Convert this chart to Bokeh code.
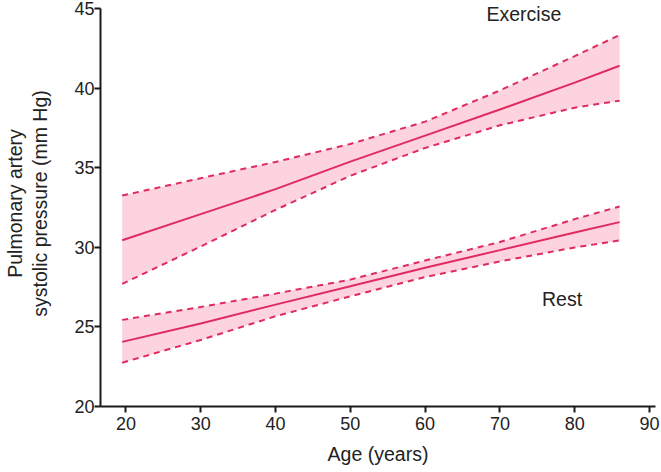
from bokeh.plotting import figure
from bokeh.models import Range1d, Label
from bokeh.embed import file_html
from bokeh.resources import INLINE

# values
ages = [19.5, 30, 40, 50, 60, 70, 80, 86]

exercise_mean = [30.44, 32.08, 33.65, 35.38, 37.01, 38.65, 40.34, 41.40]
exercise_upper = [33.25, 34.34, 35.36, 36.49, 37.89, 39.85, 42.01, 43.33]
exercise_lower = [27.70, 30.05, 32.35, 34.49, 36.24, 37.66, 38.77, 39.21]

rest_mean = [24.06, 25.21, 26.40, 27.55, 28.72, 29.82, 30.93, 31.58]
rest_upper = [25.44, 26.25, 27.09, 27.97, 29.17, 30.33, 31.77, 32.56]
rest_lower = [22.75, 24.18, 25.67, 26.92, 28.13, 29.11, 29.99, 30.43]

x_ticks = [20, 30, 40, 50, 60, 70, 80, 90]
y_ticks = [20, 25, 30, 35, 40, 45]

FONT = "Liberation Sans"
LINE = "#e02b5f"
FILL = "#fcd3df"
TEXT = "#222222"

# frame runs a little above 45 so the "Exercise" label is not clipped;
# the axis line itself stops at 45 (bounds)
p = figure(width=661, height=472, output_backend="svg", toolbar_location=None,
           x_range=Range1d(16.6, 90.8), y_range=Range1d(20, 45.5),
           min_border_left=95, min_border_right=6, min_border_top=0,
           min_border_bottom=66)
p.outline_line_color = None
p.grid.visible = False
p.background_fill_color = "white"
p.border_fill_color = "white"

for lower, mean, upper in [(exercise_lower, exercise_mean, exercise_upper),
                           (rest_lower, rest_mean, rest_upper)]:
    p.varea(x=ages, y1=lower, y2=upper, fill_color=FILL, fill_alpha=1)
    p.line(ages, upper, line_color=LINE, line_width=2, line_dash="6 5")
    p.line(ages, lower, line_color=LINE, line_width=2, line_dash="6 5")
    p.line(ages, mean, line_color=LINE, line_width=2)

p.xaxis.ticker = x_ticks
p.yaxis.ticker = y_ticks
p.yaxis.bounds = (20, 45)
p.xaxis.axis_label = "Age (years)"
p.yaxis.axis_label = "Pulmonary artery\nsystolic pressure (mm Hg)"

for ax in [p.xaxis, p.yaxis]:
    ax.axis_line_width = 2
    ax.axis_line_color = "#1a1a1a"
    ax.major_tick_line_width = 2
    ax.major_tick_line_color = "#1a1a1a"
    ax.major_tick_out = 6
    ax.major_tick_in = 0
    ax.minor_tick_line_color = None
    ax.major_label_text_font = FONT
    ax.major_label_text_font_size = "18px"
    ax.major_label_text_color = TEXT
    ax.axis_label_text_font = FONT
    ax.axis_label_text_font_size = "19.5px"
    ax.axis_label_text_font_style = "normal"
    ax.axis_label_text_color = TEXT

p.xaxis.major_label_standoff = 4
p.xaxis.axis_label_standoff = 10
p.yaxis.major_label_standoff = 0
p.yaxis.axis_label_standoff = 20
p.yaxis.axis_label_text_line_height = 1.16

p.add_layout(Label(x=73.2, y=44.64, text="Exercise", text_font=FONT,
                   text_font_size="19.5px", text_color=TEXT,
                   text_align="center", text_baseline="middle"))
p.add_layout(Label(x=78.3, y=26.77, text="Rest", text_font=FONT,
                   text_font_size="19.5px", text_color=TEXT,
                   text_align="center", text_baseline="middle"))

open("out.html", "w").write(file_html(p, INLINE))
